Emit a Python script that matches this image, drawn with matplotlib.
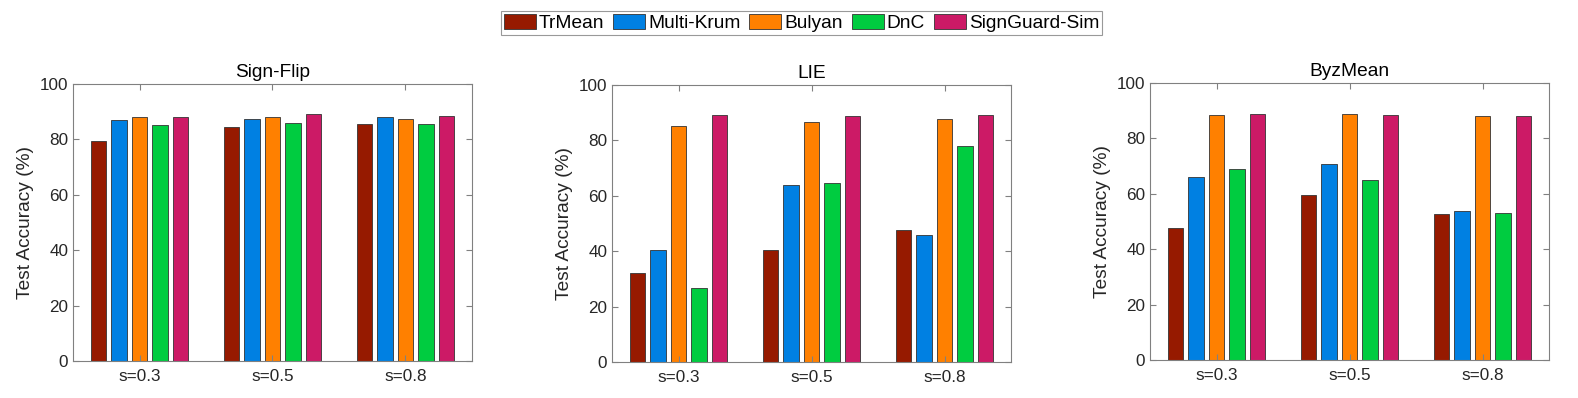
import matplotlib.pyplot as plt
import numpy as np

plt.rcParams["font.family"] = ["Liberation Sans", "DejaVu Sans"]

methods = ["TrMean", "Multi-Krum", "Bulyan", "DnC", "SignGuard-Sim"]
colors = ["#961A00", "#0080E2", "#FF8000", "#00CC40", "#CC1A66"]
groups = ["s=0.3", "s=0.5", "s=0.8"]
titles = ["Sign-Flip", "LIE", "ByzMean"]

# rows: method, cols: s=0.3, 0.5, 0.8
sign_flip = [
    [79.5, 84.6, 85.5],
    [87.0, 87.2, 88.1],
    [88.1, 88.1, 87.5],
    [85.2, 86.0, 85.5],
    [88.1, 89.2, 88.3],
]
lie = [
    [32.1, 40.4, 47.8],
    [40.3, 63.9, 45.8],
    [85.2, 86.6, 87.8],
    [26.7, 64.8, 77.8],
    [89.3, 88.8, 89.3],
]
byz_mean = [
    [47.5, 59.5, 52.8],
    [66.1, 70.6, 53.7],
    [88.3, 88.8, 88.0],
    [68.8, 65.1, 53.2],
    [88.9, 88.4, 88.2],
]
panels = [sign_flip, lie, byz_mean]

W, H = 1578, 398
fig = plt.figure(figsize=(W / 100, H / 100), dpi=100)

# axes boxes in pixels: left, right, top, bottom
boxes = [(73, 472, 84, 361), (612, 1011, 85, 362), (1150, 1549, 83, 360)]

x = np.arange(1, len(groups) + 1)
pitch = 0.154
width = 0.117
spine_c = "#808080"
txt_c = "#262626"

for data, title, (l, r, t, b) in zip(panels, titles, boxes):
    ax = fig.add_axes([l / W, 1 - b / H, (r - l) / W, (b - t) / H])
    for i, (vals, c, name) in enumerate(zip(data, colors, methods)):
        ax.bar(x + (i - 2) * pitch, vals, width, color=c, edgecolor="#333333",
               linewidth=0.6, label=name)
    ax.set_xlim(0.5, 3.5)
    ax.set_ylim(0, 100)
    ax.set_yticks([0, 20, 40, 60, 80, 100])
    ax.set_xticks(x)
    ax.set_xticklabels(groups)
    ax.tick_params(direction="in", length=4, width=0.8, color=spine_c,
                   top=True, right=True, labelsize=12.3, labelcolor=txt_c)
    ax.tick_params(axis="x", pad=5.5)
    ax.tick_params(axis="y", pad=3.5)
    for s in ax.spines.values():
        s.set_color(spine_c)
        s.set_linewidth(0.8)
    ax.set_title(title, fontsize=13.8, pad=5)
    ax.set_ylabel("Test Accuracy (%)", fontsize=13.8, labelpad=4, color=txt_c)

handles, labels = ax.get_legend_handles_labels()
leg = fig.legend(handles, labels, loc="center", ncol=5,
                 bbox_to_anchor=(801.5 / W, 1 - 23 / H),
                 fontsize=13.8, frameon=True, fancybox=False, handlelength=1.67,
                 handleheight=0.88, handletextpad=0.15, columnspacing=0.47,
                 borderpad=0.15, borderaxespad=0, edgecolor="#808080")
leg.get_frame().set_linewidth(0.8)

fig.savefig("out.png", dpi=100)
